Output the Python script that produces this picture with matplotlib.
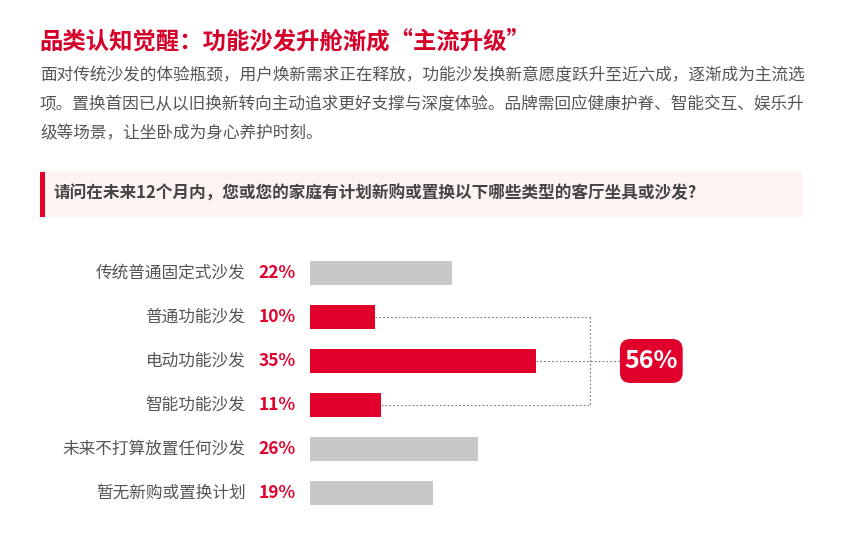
import matplotlib.pyplot as plt
from matplotlib.patches import FancyBboxPatch, Rectangle

plt.rcParams['font.family'] = ['Noto Sans CJK SC', 'DejaVu Sans']

title = '品类认知觉醒：功能沙发升舱渐成“主流升级”'
para = ['面对传统沙发的体验瓶颈，用户焕新需求正在释放，功能沙发换新意愿度跃升至近六成，逐渐成为主流选',
        '项。置换首因已从以旧换新转向主动追求更好支撑与深度体验。品牌需回应健康护脊、智能交互、娱乐升',
        '级等场景，让坐卧成为身心养护时刻。']
question = '请问在未来12个月内，您或您的家庭有计划新购或置换以下哪些类型的客厅坐具或沙发?'

categories = ['传统普通固定式沙发', '普通功能沙发', '电动功能沙发', '智能功能沙发',
              '未来不打算放置任何沙发', '暂无新购或置换计划']
values = [22, 10, 35, 11, 26, 19]
highlight = [False, True, True, True, False, False]
total_label = '56%'

RED = '#e0002b'
GRAY = '#c8c8ca'
W, H = 858, 553

fig = plt.figure(figsize=(W / 100, H / 100), dpi=100)
fig.patch.set_facecolor('white')


def fx(px):
    return px / W


def fy(py):
    return 1 - py / H


fig.text(fx(39), fy(41), title, color='#d5002a', fontsize=16.8, fontweight='bold', va='center')
for i, line in enumerate(para):
    fig.text(fx(40), fy(76 + 29 * i), line, color='#555555', fontsize=12, va='center')

# question box
fig.patches.append(Rectangle((fx(40), fy(217)), fx(802) - fx(40), fy(172) - fy(217),
                             transform=fig.transFigure, facecolor='#fdf4f2', edgecolor='none'))
fig.patches.append(Rectangle((fx(40), fy(217)), fx(45) - fx(40), fy(172) - fy(217),
                             transform=fig.transFigure, facecolor=RED, edgecolor='none'))
fig.text(fx(53), fy(194), question, color='#444444', fontsize=12, fontweight='bold', va='center')

# bar chart
px_per = 6.47
ax = fig.add_axes([fx(310), fy(515), fx(858) - fx(310), fy(251) - fy(515)])
ax.set_xlim(0, (858 - 310) / px_per)
ax.set_ylim(len(values) - 0.5, -0.5)
ax.axis('off')

ys = list(range(len(values)))
colors = [RED if h else GRAY for h in highlight]
ax.barh(ys, values, height=0.545, color=colors)

for y, c, v in zip(ys, categories, values):
    ax.text(-2.2, y, f'{v}%', color=RED, fontsize=12.5, fontweight='bold',
            ha='right', va='center', clip_on=False)
    ax.text(-10.0, y, c, color='#555555', fontsize=12,
            ha='right', va='center', clip_on=False)

# bracket joining highlighted bars
hi = [i for i, h in enumerate(highlight) if h]
bx = max(values) + 8.3
badge_l = bx + 4.6
lstyle = dict(color='#777777', lw=0.8, ls=(0, (1.5, 2)))
for i in hi:
    if i == hi[len(hi) // 2]:
        ax.plot([values[i], badge_l], [i, i], **lstyle)
    else:
        ax.plot([values[i], bx], [i, i], **lstyle)
ax.plot([bx, bx], [hi[0], hi[-1]], **lstyle)

mid = hi[len(hi) // 2]
bw, bh = 9.7, 1.0
ax.add_patch(FancyBboxPatch((badge_l, mid - bh / 2), bw, bh,
                            boxstyle='round,pad=0,rounding_size=1.6',
                            mutation_aspect=0.15,
                            facecolor=RED, edgecolor='none', clip_on=False))
ax.text(badge_l + bw / 2, mid, total_label, color='white', fontsize=18,
        fontweight='bold', ha='center', va='center')

fig.savefig('out.png', dpi=100)
